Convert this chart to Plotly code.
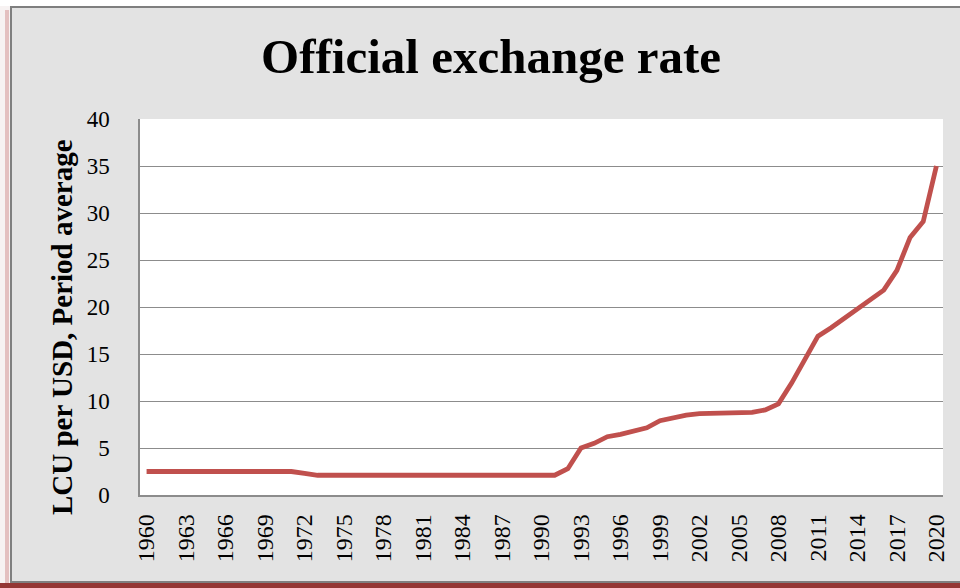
import plotly.graph_objects as go

years = list(range(1960, 2021))
rate = [2.5, 2.5, 2.5, 2.5, 2.5, 2.5, 2.5, 2.5, 2.5, 2.5,  # 1960-69
        2.5, 2.5, 2.3, 2.1, 2.1, 2.1, 2.1, 2.1, 2.1, 2.1,  # 1970-79
        2.1, 2.1, 2.1, 2.1, 2.1, 2.1, 2.1, 2.1, 2.1, 2.1,  # 1980-89
        2.1, 2.1, 2.8, 5.0, 5.5, 6.2, 6.45, 6.75, 7.15, 7.9,  # 1990-99
        8.25, 8.5, 8.65, 8.7, 8.7, 8.75, 8.8, 9.05, 9.7, 11.9,  # 2000-09
        14.4, 16.9, 17.8, 18.8, 19.8, 20.7, 21.8, 23.9, 27.4, 29.1,  # 2010-19
        35.0]  # 2020
x_ticks = list(range(1960, 2021, 3))
y_ticks = list(range(0, 41, 5))
title_text = "Official exchange rate"
y_title = "LCU per USD, Period average"

W, H = 960, 588
L, R, T, B = 140, 17, 119, 93
pw, ph = W - L - R, H - T - B

def px(x):
    return (x - L) / pw

def py(y):
    return (H - B - y) / ph

fig = go.Figure()
fig.add_trace(go.Scatter(x=years, y=rate, mode="lines",
                         line=dict(color="#c0504d", width=4.8),
                         hoverinfo="x+y"))

shapes = [
    dict(type="rect", xref="paper", yref="paper", x0=px(0), x1=px(10), y0=py(588), y1=py(0),
         fillcolor="#f7f2f2", line=dict(width=0), layer="below"),
    dict(type="rect", xref="paper", yref="paper", x0=px(5), x1=px(9), y0=py(584), y1=py(10),
         fillcolor="rgba(205,130,130,0.45)", line=dict(width=0), layer="below"),
    dict(type="rect", xref="paper", yref="paper", x0=px(0), x1=px(960), y0=py(6), y1=py(0),
         fillcolor="#ffffff", line=dict(width=0), layer="below"),
    dict(type="rect", xref="paper", yref="paper", x0=px(0), x1=px(960), y0=py(588), y1=py(583),
         fillcolor="#943634", line=dict(width=0), layer="below"),
    dict(type="rect", xref="paper", yref="paper", x0=px(11), x1=px(964), y0=py(582), y1=py(7),
         fillcolor="rgba(0,0,0,0)", line=dict(color="#7f7f7f", width=2), layer="below"),
]

annotations = [
    dict(text="<b>" + y_title + "</b>", xref="paper", yref="paper", x=px(62), y=py(327),
         xanchor="center", yanchor="middle", textangle=-90, showarrow=False,
         font=dict(family="Liberation Serif, DejaVu Serif, serif", size=29, color="black")),
]

fig.update_layout(
    width=W, height=H,
    margin=dict(l=L, r=R, t=T, b=B),
    paper_bgcolor="#e3e3e3",
    plot_bgcolor="white",
    showlegend=False,
    shapes=shapes,
    annotations=annotations,
    title=dict(text="<b>" + title_text + "</b>", x=491 / W, xref="container", xanchor="center",
               y=1 - 56 / H, yanchor="middle", yref="container",
               font=dict(family="Liberation Serif, DejaVu Serif, serif", size=49, color="black")),
    font=dict(family="Liberation Serif, DejaVu Serif, serif", color="black"),
    xaxis=dict(range=[1959.5, 2020.5], tickmode="array", tickvals=x_ticks,
               ticktext=[str(v) for v in x_ticks], tickangle=-90,
               showgrid=False, zeroline=False, showline=True, linecolor="#8c8c8c", linewidth=1.5,
               ticks="outside", ticklen=0, ticklabelstandoff=8,
               tickfont=dict(size=24)),
    yaxis=dict(range=[0, 40], tickvals=y_ticks, showgrid=True, gridcolor="#8c8c8c", gridwidth=1.3,
               zeroline=False, showline=True, linecolor="#8c8c8c", linewidth=1.5,
               ticks="outside", ticklen=0, ticklabelstandoff=24,
               tickfont=dict(size=23)),
)

fig.write_html("out.html")
